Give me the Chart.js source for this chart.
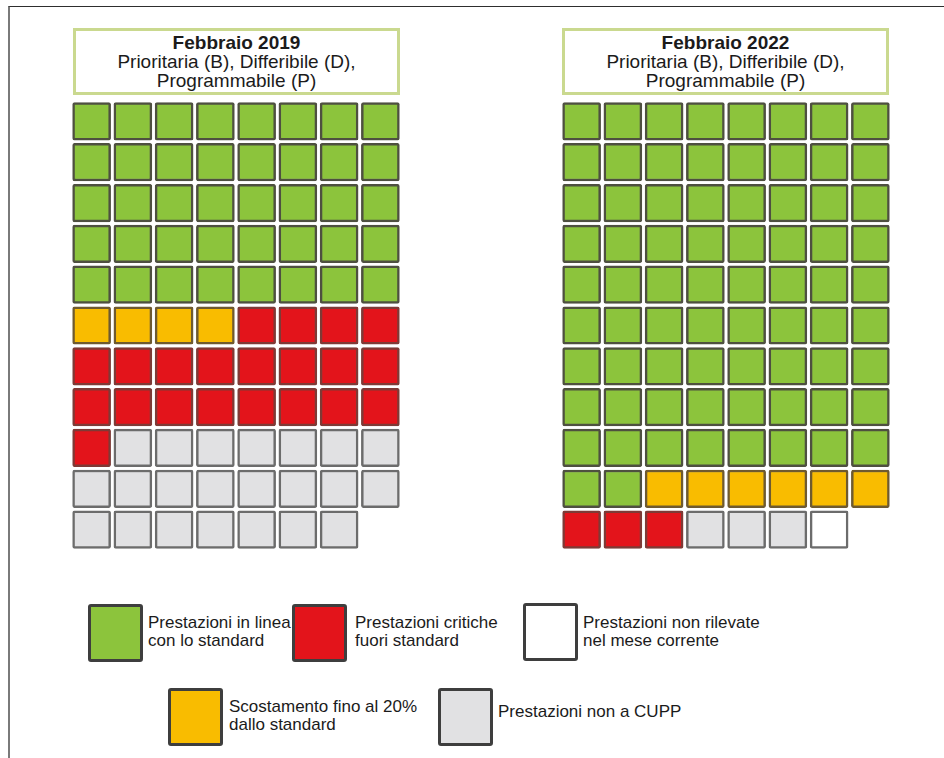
<!DOCTYPE html>
<html lang="it">
<head>
<meta charset="utf-8">
<script src="https://cdn.jsdelivr.net/npm/chart.js@4.4.0/dist/chart.umd.min.js"></script>
<style>
  body { margin: 0; width: 944px; height: 758px; background: #fff; position: relative; overflow: hidden;
         font-family: "Liberation Sans", Arial, sans-serif; color: #1b1b1b; }
  .cornice { position: absolute; left: 8px; top: 6px; right: -2px; bottom: -2px;
             border-top: 1px solid #2e2e2e; border-left: 2px solid #7a7a7a; }
  .titolo { position: absolute; top: 28px; width: 327px; height: 67px; box-sizing: border-box;
            border: 3px solid #cad98f; text-align: center; font-size: 19px; line-height: 19px; padding-top: 2px; }
  .titolo b { font-weight: bold; }
  .griglia { position: absolute; top: 101px; }
  .leg-box { position: absolute; width: 55px; height: 58px; box-sizing: border-box;
             border: 3px solid #3e3e3e; border-radius: 3px; }
  .leg-txt { position: absolute; font-size: 17px; line-height: 18px; white-space: nowrap; }
</style>
</head>
<body>
<div class="cornice"></div>

<div class="titolo" style="left:73px"><b>Febbraio 2019</b><br>Prioritaria (B), Differibile (D),<br>Programmabile (P)</div>
<div class="titolo" style="left:562px"><b>Febbraio 2022</b><br>Prioritaria (B), Differibile (D),<br>Programmabile (P)</div>

<canvas id="grafico2019" class="griglia" style="left:71px" width="330" height="449"></canvas>
<canvas id="grafico2022" class="griglia" style="left:561px" width="330" height="449"></canvas>

<div id="legenda"></div>

<script>
// stati delle prestazioni, nell'ordine in cui riempiono la griglia
const categorie = [
  ['Prestazioni in linea', 'con lo standard'],
  ['Scostamento fino al 20%', 'dallo standard'],
  ['Prestazioni critiche', 'fuori standard'],
  ['Prestazioni non a CUPP'],
  ['Prestazioni non rilevate', 'nel mese corrente']
];
const colori = ['#8cc43c', '#f9bc00', '#e3141b', '#e1e1e3', '#ffffff'];
const bordi = ['#4e5040', '#6e5a30', '#7e3a36', '#6c6c6c', '#6c6c6c'];

const conteggi2019 = [40, 4, 21, 22, 0];
const conteggi2022 = [74, 6, 3, 3, 1];

const colonne = ['1', '2', '3', '4', '5', '6', '7', '8'];
const righe = 11;

// una cella per prestazione, riga per riga da sinistra a destra
function creaDataset(conteggi) {
  let k = 0;
  return conteggi.map((n, i) => {
    const celle = [];
    for (let j = 0; j < n; j++, k++) {
      const r = Math.floor(k / colonne.length);
      celle.push({ x: colonne[k % colonne.length], y: [r + 0.04, r + 0.96] });
    }
    return {
      label: categorie[i].join(' '),
      data: celle,
      backgroundColor: colori[i],
      borderColor: bordi[i],
      borderWidth: 2.5,
      borderRadius: 2,
      borderSkipped: false,
      grouped: false,
      barThickness: 38
    };
  });
}

function disegnaGriglia(id, conteggi) {
  const ctx = document.getElementById(id).getContext('2d');
  new Chart(ctx, {
    type: 'bar',
    data: {
      labels: colonne,
      datasets: creaDataset(conteggi)
    },
    options: {
      responsive: false,
      animation: false,
      layout: { padding: 0 },
      scales: {
        x: { display: false },
        y: { display: false, min: 0, max: righe, reverse: true }
      },
      plugins: {
        legend: { display: false },
        tooltip: { enabled: false }
      }
    }
  });
}

// legenda: posizione del quadrato e del testo per ogni stato
const posLegenda = [
  { x: 88, y: 604, tx: 148, ty: 614 },
  { x: 168, y: 688, tx: 229, ty: 698 },
  { x: 292, y: 604, tx: 355, ty: 614 },
  { x: 438, y: 688, tx: 498, ty: 703 },
  { x: 523, y: 603, tx: 583, ty: 614 }
];

function disegnaLegenda() {
  const box = document.getElementById('legenda');
  posLegenda.forEach((p, i) => {
    const q = document.createElement('div');
    q.className = 'leg-box';
    q.style.left = p.x + 'px';
    q.style.top = p.y + 'px';
    q.style.background = colori[i];
    box.appendChild(q);

    const t = document.createElement('div');
    t.className = 'leg-txt';
    t.style.left = p.tx + 'px';
    t.style.top = p.ty + 'px';
    t.innerHTML = categorie[i].join('<br>');
    box.appendChild(t);
  });
}

disegnaGriglia('grafico2019', conteggi2019);
disegnaGriglia('grafico2022', conteggi2022);
disegnaLegenda();
</script>
</body>
</html>
